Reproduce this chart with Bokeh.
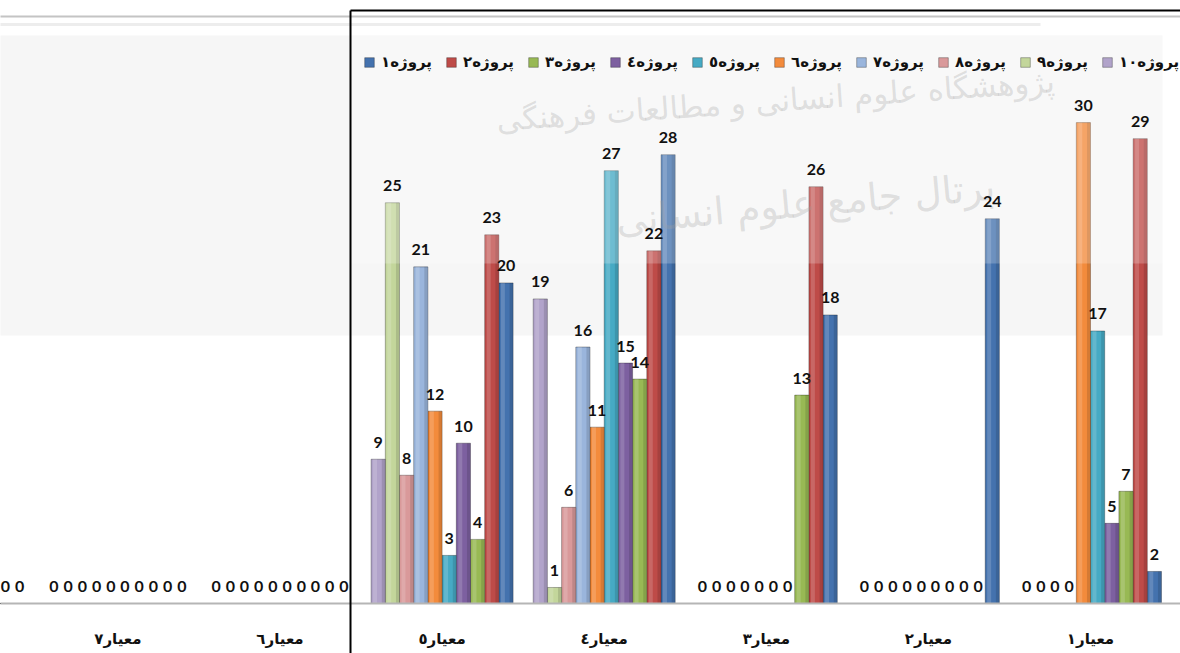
import numpy as np
from bokeh.plotting import figure
from bokeh.models import ColumnDataSource, Range1d, Legend, LegendItem
from bokeh.core.properties import value
from bokeh.embed import file_html
from bokeh.resources import INLINE

# ---------------- data ----------------
categories = ["معیار١", "معیار٢", "معیار٣", "معیار٤", "معیار٥", "معیار٦", "معیار٧", "معیار٨"]
series_names = ["پروژه١", "پروژه٢", "پروژه٣", "پروژه٤", "پروژه٥",
                "پروژه٦", "پروژه٧", "پروژه٨", "پروژه٩", "پروژه١٠"]
proj1 = [2, 24, 18, 28, 20, 0, 0, 0]
proj2 = [29, 0, 26, 22, 23, 0, 0, 0]
proj3 = [7, 0, 13, 14, 4, 0, 0, 0]
proj4 = [5, 0, 0, 15, 10, 0, 0, 0]
proj5 = [17, 0, 0, 27, 3, 0, 0, 0]
proj6 = [30, 0, 0, 11, 12, 0, 0, 0]
proj7 = [0, 0, 0, 16, 21, 0, 0, 0]
proj8 = [0, 0, 0, 6, 8, 0, 0, 0]
proj9 = [0, 0, 0, 1, 25, 0, 0, 0]
proj10 = [0, 0, 0, 19, 9, 0, 0, 0]
series_values = [proj1, proj2, proj3, proj4, proj5, proj6, proj7, proj8, proj9, proj10]
colors = ["#4472AE", "#BE4B48", "#98B954", "#7D60A0", "#46AAC4",
          "#F38B3C", "#9AB5DC", "#D9999A", "#C3D69B", "#B1A3CA"]

# ---------------- layout ----------------
W, H = 1180, 653
SX = 162.1           # px per category
SY = 16.03           # px per value unit
BASE_PX = 603        # baseline, px from top
C1_PX = 1090         # centre of first category, px from left
n_cat = len(categories)
X_END_CAT = n_cat - 1
x_start = X_END_CAT - C1_PX / SX
x_end = x_start + W / SX
y_start = -(H - BASE_PX) / SY
y_end = BASE_PX / SY

def fx(px):  # page px -> data x (decorations only)
    return x_start + px / SX

def fy(py):  # page px from top -> data y (decorations only)
    return (BASE_PX - py) / SY

bar_w = 14.2 / SX

p = figure(width=W, height=H, output_backend="svg", toolbar_location=None,
           x_range=Range1d(x_start, x_end), y_range=Range1d(y_start, y_end),
           x_axis_type=None, y_axis_type=None, min_border=0,
           background_fill_color="white", border_fill_color="white")
p.outline_line_color = None
p.grid.visible = False

# background bands
p.quad(left=[fx(-10)], right=[fx(1162)], top=[fy(35)], bottom=[fy(335)],
       fill_color="#F6F6F6", line_color=None)
p.segment(x0=[fx(-10)], x1=[fx(W + 10)], y0=[fy(16)], y1=[fy(16)],
          line_color="#C4C4C4", line_width=2)
p.segment(x0=[fx(-10)], x1=[fx(1040)], y0=[fy(24)], y1=[fy(24)],
          line_color="#EDEDED", line_width=3)

cat_x = X_END_CAT - np.arange(n_cat)

bar_renderers = []
for s, (name, vals, col) in enumerate(zip(series_names, series_values, colors)):
    xs = cat_x + (4.5 - s) * bar_w
    src = ColumnDataSource(dict(x=xs, top=vals))
    r = p.vbar(x="x", top="top", bottom=0, width=bar_w, source=src,
               fill_color=col, line_color="black", line_alpha=0.3, line_width=1)
    # cylinder-like shading
    p.vbar(x=xs - 0.22 * bar_w, top=vals, bottom=0, width=0.28 * bar_w,
           fill_color="white", fill_alpha=0.16, line_color=None)
    p.vbar(x=xs + 0.36 * bar_w, top=vals, bottom=0, width=0.22 * bar_w,
           fill_color="black", fill_alpha=0.12, line_color=None)
    bar_renderers.append(r)

# watermark overlay (lightens upper part of bars)
p.quad(left=[fx(350)], right=[fx(W + 10)], top=[fy(35)], bottom=[fy(263)],
       fill_color="white", fill_alpha=0.22, line_color=None)
p.text(x=[fx(775)], y=[fy(100)], text=["پژوهشگاه علوم انسانی و مطالعات فرهنگی"],
       angle=0.07, text_align="center", text_baseline="middle",
       text_font=value("DejaVu Sans"), text_font_size="31px",
       text_color="#A0A0A0", text_alpha=0.3)
p.text(x=[fx(805)], y=[fy(203)], text=["پرتال جامع علوم انسانی"],
       angle=0.09, text_align="center", text_baseline="middle",
       text_font=value("DejaVu Sans"), text_font_size="38px",
       text_color="#A0A0A0", text_alpha=0.3)

# value labels (only those whose bar lies inside the visible range)
for s, vals in enumerate(series_values):
    xs = cat_x + (4.5 - s) * bar_w
    vis = (xs > x_start) & (xs < x_end)
    src = ColumnDataSource(dict(x=xs[vis], y=np.array(vals)[vis],
                                label=[str(v) for v, m in zip(vals, vis) if m]))
    p.text(x="x", y="y", text="label", source=src, y_offset=-17,
           text_align="center", text_baseline="middle",
           text_font=value("Lato"), text_font_style="bold",
           text_font_size="16px", text_color="#111111")

# baseline axis line
p.segment(x0=[x_start - 1], x1=[x_end + 1], y0=[0], y1=[0],
          line_color="#B5B5B5", line_width=2)

# category labels
cvis = (cat_x - 0.2 > x_start) & (cat_x + 0.2 < x_end)
p.text(x=cat_x[cvis], y=[fy(638)] * int(cvis.sum()),
       text=[c for c, m in zip(categories, cvis) if m],
       text_align="center", text_baseline="middle",
       text_font=value("DejaVu Sans"), text_font_style="bold",
       text_font_size="15px", text_color="#111111")

# frame lines
p.segment(x0=[fx(350)], x1=[fx(350)], y0=[fy(10)], y1=[y_start - 1],
          line_color="black", line_width=2)
p.segment(x0=[fx(350)], x1=[x_end + 1], y0=[fy(10)], y1=[fy(10)],
          line_color="black", line_width=2)

legend = Legend(items=[LegendItem(label=n, renderers=[r]) for n, r in zip(series_names, bar_renderers)],
                orientation="horizontal", location=(363, 581),
                glyph_width=12, glyph_height=12, label_standoff=6, label_width=56,
                spacing=8, padding=0, margin=0, border_line_color=None,
                background_fill_alpha=0, label_text_font="DejaVu Sans",
                label_text_font_style="bold", label_text_font_size="15px",
                label_text_color="#111111", label_height=20)
p.add_layout(legend)

open("out.html", "w").write(file_html(p, INLINE))
